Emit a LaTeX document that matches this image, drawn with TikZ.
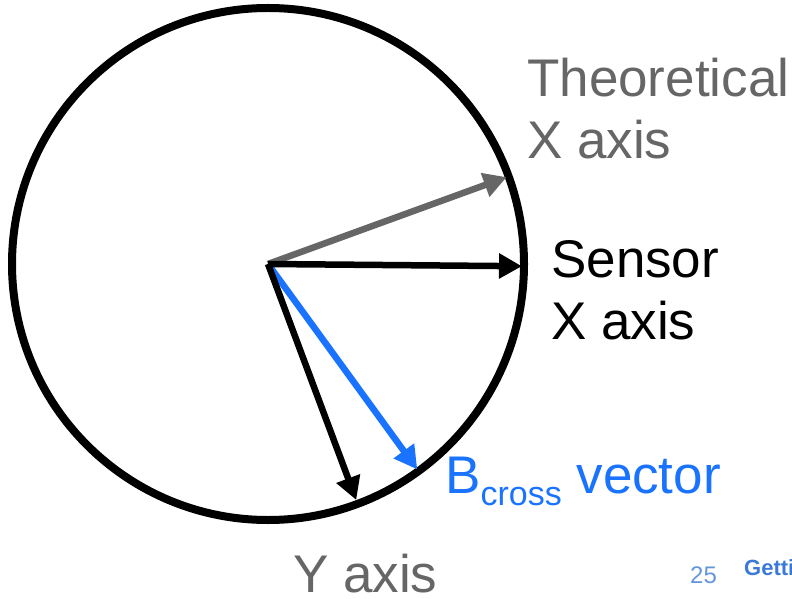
\documentclass[tikz,border=0pt]{standalone}
\usepackage{fontspec}
\setmainfont{Liberation Sans}
\usepackage{xcolor}
\usetikzlibrary{arrows.meta, positioning}
\definecolor{axisgray}{RGB}{102,102,102}
\definecolor{crossblue}{RGB}{26,115,255}
\definecolor{pageblue}{RGB}{100,150,220}
\definecolor{titleblue}{RGB}{58,122,214}

\begin{document}
\begin{tikzpicture}[
    x=1pt, y=1pt,
    vec/.style={line width=6.5pt, -{Triangle[length=23pt,width=24pt]}},
    lbl/.style={anchor=base west, inner sep=0pt, align=left,
                font=\fontsize{53}{62}\selectfont}
  ]
  \useasboundingbox (0,0) rectangle (792,598);
  \coordinate (o) at (268,334);
  \node[draw, circle, line width=8pt, minimum size=512pt,
        inner sep=0pt] (dial) at (o) {};
  % arrow tips on the rim
  \coordinate (thx) at ([shift={(20:254pt)}]o);
  \coordinate (snx) at ([shift={(-0.5:254pt)}]o);
  \coordinate (bcr) at ([shift={(-54:254pt)}]o);
  \coordinate (yax) at ([shift={(-69.5:252pt)}]o);
  \draw[vec, axisgray] (o) -- (thx);
  \draw[vec, crossblue] (o) -- (bcr);
  \draw[vec, black] (o) -- (snx);
  \draw[vec, black] (o) -- (yax);
  % labels
  \node[lbl, text=axisgray] (theo) at (527,439) {Theoretical\\X axis};
  \node[lbl] (sens) at (551,259) {Sensor\\X axis};
  \node[lbl, text=crossblue] (bvec) at (445,105)
    {B\raisebox{-12pt}{\fontsize{34}{34}\selectfont cross} vector};
  \node[lbl, text=axisgray] (ylbl) at (293,6) {Y axis};
  \node[anchor=base west, inner sep=0pt, text=pageblue,
        font=\fontsize{24}{24}\selectfont] (pnum) at (690,15) {25};
  \node[anchor=base west, inner sep=0pt, text=titleblue,
        font=\fontsize{22}{22}\selectfont\bfseries] (title) at (744,23) {Getti};
\end{tikzpicture}
\end{document}
